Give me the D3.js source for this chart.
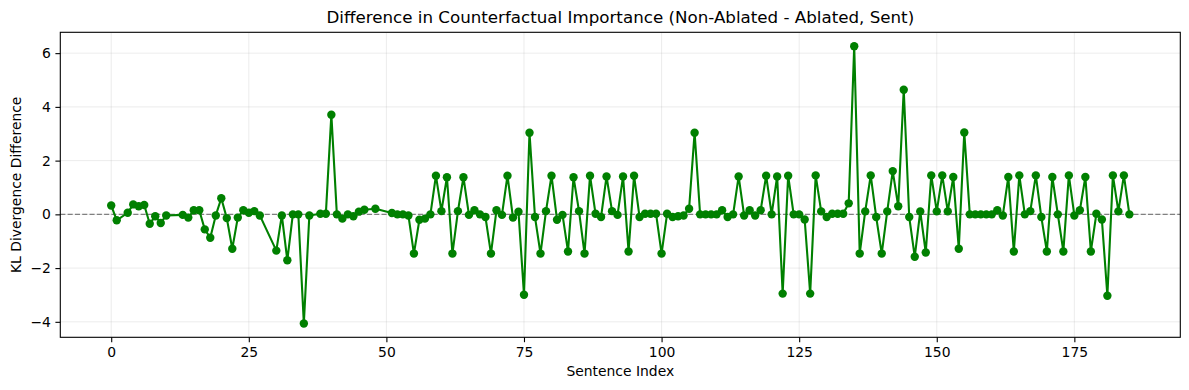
<!DOCTYPE html>
<html>
<head>
<meta charset="utf-8">
<script src="https://cdn.jsdelivr.net/npm/d3@7"></script>
<style>
body { margin: 0; background: white; }
text { font-family: "DejaVu Sans", sans-serif; }
</style>
</head>
<body>
<svg width="1189" height="390"></svg>
<script>
// sentence indices (some sentences are missing) and the KL difference
var sentenceIndex = [0,1,3,4,5,6,7,8,9,10,
	13,14,15,16,17,18,19,20,21,22,23,24,25,26,27,
	30,31,32,33,34,35,36,38,39,40,41,42,43,44,45,46,48,
	51,52,53,54,55,56,57,58,59,60,61,62,63,64,65,66,67,68,69,70,
	71,72,73,74,75,76,77,78,79,80,81,82,83,84,85,86,87,88,89,90,
	91,92,93,94,95,96,97,98,99,100,101,102,103,104,105,106,107,108,109,110,
	111,112,113,114,115,116,117,118,119,120,121,122,123,124,125,126,127,128,129,130,
	131,132,133,134,135,136,137,138,139,140,141,142,143,144,145,146,147,148,149,150,
	151,152,153,154,155,156,157,158,159,160,161,162,163,164,165,166,167,168,169,170,
	171,172,173,174,175,176,177,178,179,180,181,182,183,184,185];
var klDiff = [0.33,-0.22,0.06,0.37,0.30,0.35,-0.35,-0.07,-0.32,-0.04,
	-0.02,-0.12,0.15,0.15,-0.56,-0.87,-0.04,0.60,-0.14,-1.28,-0.12,0.15,0.06,0.12,-0.04,
	-1.35,-0.04,-1.71,0,0,-4.06,-0.04,0.02,0.02,3.71,0,-0.16,0,-0.07,0.10,0.17,0.21,
	0.05,0,0,-0.04,-1.46,-0.20,-0.16,0,1.44,0.12,1.38,-1.46,0.12,1.38,-0.02,0.15,0,-0.10,-1.46,0.15,
	-0.02,1.44,-0.12,0.10,-2.99,3.04,-0.10,-1.46,0.12,1.44,-0.20,-0.02,-1.38,1.38,0.12,-1.46,1.44,0.02,-0.10,1.41,
	0.12,-0.02,1.41,-1.38,1.44,-0.10,0.02,0.02,0.02,-1.46,0.02,-0.10,-0.07,-0.04,0.21,3.04,0,0,0,0,
	0.15,-0.10,0,1.41,-0.04,0.15,-0.04,0.15,1.44,0,1.41,-2.95,1.44,0,0,-0.19,-2.95,1.45,0.11,-0.10,
	0.02,0.02,0.02,0.41,6.26,-1.46,0.11,1.45,-0.10,-1.46,0.11,1.61,0.30,4.64,-0.10,-1.58,0.11,-1.42,1.45,0.11,
	1.45,0.11,1.39,-1.28,3.05,0,0,0,0,0,0.15,-0.04,1.39,-1.38,1.45,0,0.12,1.45,-0.10,-1.38,
	1.39,0,-1.38,1.45,-0.04,0.15,1.39,-1.38,0.02,-0.19,-3.03,1.45,0.11,1.45,0];
var xTicks = [0,25,50,75,100,125,150,175];
var yTicks = [-4,-2,0,2,4,6];
var titleText = "Difference in Counterfactual Importance (Non-Ablated - Ablated, Sent)";
var xLabel = "Sentence Index";
var yLabel = "KL Divergence Difference";

var margin = {left: 60.3, top: 32.3, right: 8.7, bottom: 52.7};
var W = 1189, H = 390;
var pw = W - margin.left - margin.right;
var ph = H - margin.top - margin.bottom;

var data = sentenceIndex.map(function(s, i){ return {x: s, y: klDiff[i]}; });

// matplotlib style 5% padding
var xe = d3.extent(sentenceIndex), ye = d3.extent(klDiff);
var xp = (xe[1]-xe[0])*0.05, yp = (ye[1]-ye[0])*0.05;
var x = d3.scaleLinear().domain([xe[0]-xp, xe[1]+xp]).range([0, pw]);
var y = d3.scaleLinear().domain([ye[0]-yp, ye[1]+yp]).range([ph, 0]);

var svg = d3.select("svg");
var g = svg.append("g").attr("transform", "translate(" + margin.left + "," + margin.top + ")");

// grid
g.selectAll(".vgrid").data(xTicks).enter().append("line")
	.attr("x1", d => x(d)).attr("x2", d => x(d))
	.attr("y1", 0).attr("y2", ph)
	.style("stroke", "#b0b0b0").style("stroke-opacity", 0.3).style("stroke-width", 0.8);
g.selectAll(".hgrid").data(yTicks).enter().append("line")
	.attr("y1", d => y(d)).attr("y2", d => y(d))
	.attr("x1", 0).attr("x2", pw)
	.style("stroke", "#b0b0b0").style("stroke-opacity", 0.3).style("stroke-width", 0.8);

// zero line
g.append("line")
	.attr("x1", 0).attr("x2", pw)
	.attr("y1", y(0)).attr("y2", y(0))
	.style("stroke", "gray").style("stroke-width", 1.1)
	.style("stroke-dasharray", "5.1,2.2");

var line = d3.line().x(d => x(d.x)).y(d => y(d.y));
g.append("path").datum(data)
	.attr("d", line)
	.style("fill", "none")
	.style("stroke", "green")
	.style("stroke-width", 2.1)
	.style("stroke-linejoin", "round");

g.selectAll(".pt").data(data).enter().append("circle")
	.attr("cx", d => x(d.x)).attr("cy", d => y(d.y))
	.attr("r", 4.2)
	.style("fill", "green");

// axes
var xAxis = g.append("g").attr("transform", "translate(0," + ph + ")")
	.call(d3.axisBottom(x).tickValues(xTicks).tickSize(4.9).tickPadding(4.5).tickFormat(d3.format("d")));
var yAxis = g.append("g")
	.call(d3.axisLeft(y).tickValues(yTicks).tickSize(4.9).tickPadding(4.5));
[xAxis, yAxis].forEach(function(a){
	a.select(".domain").remove();
	a.selectAll(".tick line").style("stroke", "black").style("stroke-width", 1.1);
	a.selectAll(".tick text").style("font-family", "DejaVu Sans").style("font-size", "13.9px").style("fill", "black");
});

// frame
g.append("rect").attr("width", pw).attr("height", ph)
	.style("fill", "none").style("stroke", "black").style("stroke-width", 1.1);

svg.append("text").attr("x", margin.left + pw/2).attr("y", 23)
	.attr("text-anchor", "middle").style("font-size", "16.7px").text(titleText);
svg.append("text").attr("x", margin.left + pw/2).attr("y", 376)
	.attr("text-anchor", "middle").style("font-size", "13.9px").text(xLabel);
svg.append("text").attr("transform", "translate(21," + (margin.top + ph/2) + ") rotate(-90)")
	.attr("text-anchor", "middle").style("font-size", "13.9px").text(yLabel);
</script>
</body>
</html>
